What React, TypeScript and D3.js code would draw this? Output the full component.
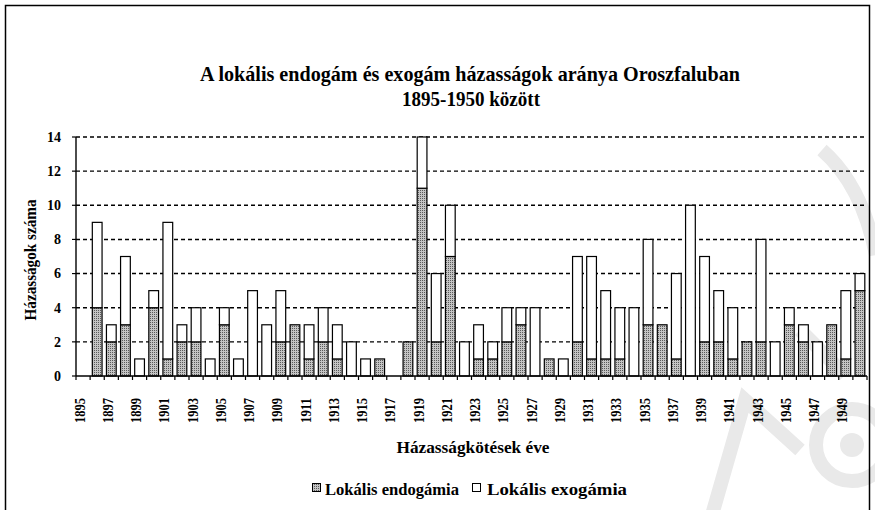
import React from "react";
import * as d3 from "d3";

const years: number[] = d3.range(1895, 1951);
const endogamy: number[] = [
  0, 4, 2, 3, 0, 4, 1, 2, 2, 0, 3, 0, 0, 0, 2, 3, 1, 2, 1, 0,
  0, 1, 0, 2, 11, 2, 7, 0, 1, 1, 2, 3, 0, 1, 0, 2, 1, 1, 1, 0,
  3, 3, 1, 0, 2, 2, 1, 2, 2, 0, 3, 2, 0, 3, 1, 5,
];
const exogamy: number[] = [
  0, 5, 1, 4, 1, 1, 8, 1, 2, 1, 1, 1, 5, 3, 3, 0, 2, 2, 2, 2,
  1, 0, 0, 0, 3, 4, 3, 2, 2, 1, 2, 1, 4, 0, 1, 5, 6, 4, 3, 4,
  5, 0, 5, 10, 5, 3, 3, 0, 6, 2, 1, 1, 2, 0, 4, 1,
];
const yTicks: number[] = [0, 2, 4, 6, 8, 10, 12, 14];
const seriesNames: string[] = ["Lokális endogámia", "Lokális exogámia"];
const titleLines: string[] = [
  "A lokális endogám és exogám házasságok aránya Oroszfaluban",
  "1895-1950 között",
];
const xTitle = "Házasságkötések éve";
const yTitle = "Házasságok száma";

const FONT = "'Liberation Serif', 'Times New Roman', serif";

export default function App() {
  const W = 875;
  const H = 510;
  const left = 76;
  const right = 867;
  const top = 137;
  const bottom = 376;

  const x = d3
    .scaleBand<number>()
    .domain(years)
    .range([left, right])
    .paddingInner(0.31)
    .paddingOuter(0.155);
  const step = x.step();
  const y = d3.scaleLinear().domain([0, 14]).range([bottom, top]);

  const rows = years.map((yr, i) => ({ year: yr, endo: endogamy[i], exo: exogamy[i] }));
  const stack = d3.stack<any>().keys(["endo", "exo"])(rows);
  const fills = ["url(#dots)", "#ffffff"];

  const boundaries = d3.range(0, years.length + 1).map((k) => left + k * step);
  const wm = "#e9e9e9";

  return (
    <svg
      width={W}
      height={H}
      style={{ position: "absolute", left: 0, top: 0, background: "#fff" }}
      fontFamily={FONT}
    >
      <defs>
        <pattern id="dots" width="2" height="2" patternUnits="userSpaceOnUse">
          <rect width="2" height="2" fill="#c4c4c4" />
          <rect width="1" height="1" fill="#5a5a5a" />
        </pattern>
      </defs>
      <rect x={0} y={0} width={W} height={H} fill="#fff" />

      {/* faint background watermark */}
      <g fill="none" stroke={wm} strokeWidth={14} strokeLinecap="butt">
        <path d="M 822 150 Q 862 185 876 255" />
        <circle cx={852} cy={445} r={36} />
        <path d="M 712 515 L 745 400 L 800 450" />
        <path d="M 800 330 L 845 375" />
      </g>
      <circle cx={852} cy={445} r={12} fill={wm} />

      <rect x={5.5} y={5.5} width={864} height={520} fill="none" stroke="#000" strokeWidth={1.5} />

      {/* title */}
      <text x={470} y={81} textAnchor="middle" fontSize={22} fontWeight="bold"
        textLength={540} lengthAdjust="spacingAndGlyphs">
        {titleLines[0]}
      </text>
      <text x={471} y={106} textAnchor="middle" fontSize={22} fontWeight="bold"
        textLength={138} lengthAdjust="spacingAndGlyphs">
        {titleLines[1]}
      </text>

      {/* gridlines */}
      {yTicks.filter((v) => v > 0).map((v) => (
        <line
          key={v}
          x1={left}
          x2={right - 3}
          y1={y(v)}
          y2={y(v)}
          stroke="#000"
          strokeWidth={1.4}
          strokeDasharray="4,3"
        />
      ))}

      {/* bars */}
      {stack.map((s, si) =>
        s.map((d, i) =>
          d[1] - d[0] > 0 ? (
            <rect
              key={si + "-" + i}
              x={x(years[i])!}
              y={y(d[1])}
              width={x.bandwidth()}
              height={y(d[0]) - y(d[1])}
              fill={fills[si]}
              stroke="#000"
              strokeWidth={1.2}
            />
          ) : null
        )
      )}

      {/* y axis */}
      <line x1={left} x2={left} y1={top} y2={bottom} stroke="#000" strokeWidth={1.4} />
      {yTicks.map((v) => (
        <g key={v}>
          <line x1={left - 4} x2={left} y1={y(v)} y2={y(v)} stroke="#000" strokeWidth={1.2} />
          <text
            x={61}
            y={y(v)}
            dy="0.35em"
            textAnchor="end"
            fontSize={14}
            fontWeight="bold"
          >
            {v}
          </text>
        </g>
      ))}

      {/* x axis */}
      <line x1={left} x2={right} y1={bottom} y2={bottom} stroke="#000" strokeWidth={1.4} />
      {boundaries.map((bx, k) => (
        <line key={k} x1={bx} x2={bx} y1={bottom} y2={bottom + 4} stroke="#000" strokeWidth={1.2} />
      ))}
      {years.map((yr, i) =>
        i % 2 === 0 ? (
          <text
            key={yr}
            transform={`translate(${left + (i + 0.5) * step + 1.5},${398}) rotate(-90)`}
            textAnchor="end"
            fontSize={14}
            fontWeight="bold"
            textLength={25}
            lengthAdjust="spacingAndGlyphs"
          >
            {yr}
          </text>
        ) : null
      )}

      {/* axis titles */}
      <text x={473} y={453} textAnchor="middle" fontSize={17} fontWeight="bold"
        textLength={153} lengthAdjust="spacingAndGlyphs">
        {xTitle}
      </text>
      <text
        transform={`translate(36,260) rotate(-90)`}
        textAnchor="middle"
        fontSize={17}
        fontWeight="bold"
        textLength={121}
        lengthAdjust="spacingAndGlyphs"
      >
        {yTitle}
      </text>

      {/* legend */}
      <g>
        <rect x={312.5} y={483.5} width={8} height={8} fill="url(#dots)" stroke="#000" strokeWidth={1} />
        <text x={325} y={495} fontSize={17} fontWeight="bold"
          textLength={134} lengthAdjust="spacingAndGlyphs">
          {seriesNames[0]}
        </text>
        <rect x={472.5} y={483.5} width={8} height={8} fill="#fff" stroke="#000" strokeWidth={1} />
        <text x={487} y={495} fontSize={17} fontWeight="bold"
          textLength={140} lengthAdjust="spacingAndGlyphs">
          {seriesNames[1]}
        </text>
      </g>
    </svg>
  );
}
